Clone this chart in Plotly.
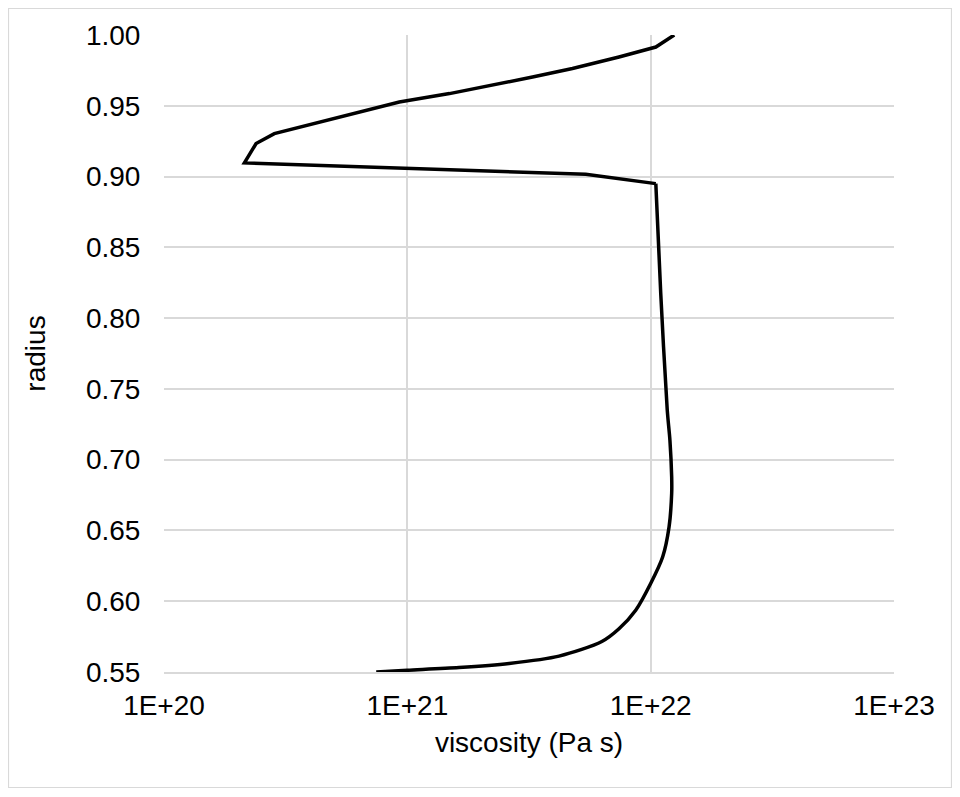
import plotly.graph_objects as go

viscosity = [1.25e22, 1.05e22, 7.41e21, 4.77e21, 3.27e21, 2.24e21, 1.49e21, 9.27e20,
             6.77e20, 4.64e20, 2.84e20, 2.39e20, 2.14e20,
             5.41e21, 1.05e22,
             1.10e22, 1.17e22, 1.20e22, 1.22e22, 1.22e22, 1.19e22, 1.12e22, 1.00e22,
             8.68e21, 7.41e21, 6.30e21, 4.20e21, 2.62e21, 1.63e21, 1.00e21, 7.45e20]
radius = [1.000, 0.9915, 0.9845, 0.9763, 0.9703, 0.9645, 0.9586, 0.9527,
          0.9468, 0.9397, 0.9303, 0.9233, 0.9096,
          0.9016, 0.8950,
          0.8175, 0.7349, 0.7137, 0.6878, 0.6763, 0.6524, 0.6312, 0.6125,
          0.5936, 0.5805, 0.5715, 0.5612, 0.5560, 0.5531, 0.5512, 0.5500]
# index of the sharp corner where the smooth lower part begins
smooth_from = 14

x_tickvals = [1e20, 1e21, 1e22, 1e23]
x_ticktext = ["1E+20", "1E+21", "1E+22", "1E+23"]
y_tickvals = [0.55, 0.60, 0.65, 0.70, 0.75, 0.80, 0.85, 0.90, 0.95, 1.00]

fig = go.Figure()
fig.add_trace(go.Scatter(x=viscosity[:smooth_from + 1], y=radius[:smooth_from + 1], mode="lines",
                         line=dict(color="black", width=3.5), showlegend=False))
fig.add_trace(go.Scatter(x=viscosity[smooth_from:], y=radius[smooth_from:], mode="lines",
                         line=dict(color="black", width=3.5, shape="spline", smoothing=0.8),
                         showlegend=False))

# page body has an 8px margin; figure sized to fit the 960x797 window
W, H = 944, 781
L, T = 156, 27
pw, ph = 730, 637
R, B = W - L - pw, H - T - ph

font = dict(family="Liberation Sans, Arial, sans-serif", size=28, color="#000000")

fig.update_layout(
    width=W, height=H,
    margin=dict(l=L, r=R, t=T, b=B, autoexpand=False),
    paper_bgcolor="white", plot_bgcolor="white",
    font=font,
    xaxis=dict(type="log", range=[20, 23], tickvals=x_tickvals, ticktext=x_ticktext,
               showgrid=True, gridcolor="#d9d9d9", gridwidth=1.5,
               showline=True, linecolor="#d9d9d9", linewidth=1.5, mirror=False,
               zeroline=False, ticks="outside", ticklen=8, tickcolor="rgba(0,0,0,0)",
               title=dict(text="viscosity (Pa s)", font=font, standoff=12)),
    yaxis=dict(range=[0.55, 1.0], tickvals=y_tickvals, tickformat=".2f",
               showgrid=True, gridcolor="#d9d9d9", gridwidth=1.5,
               showline=False, zeroline=False,
               ticks="outside", ticklen=17, tickcolor="rgba(0,0,0,0)",
               title=dict(text="radius", font=font, standoff=32)),
    shapes=[dict(type="rect", xref="paper", yref="paper",
                 x0=(0.5 - L) / pw, x1=(W - 0.5 - L) / pw,
                 y0=(T + ph - H + 1.5) / ph, y1=(T + ph - 0.5) / ph,
                 line=dict(color="#d9d9d9", width=1.2), fillcolor="rgba(0,0,0,0)",
                 layer="below")],
)

fig.write_html("out.html")
